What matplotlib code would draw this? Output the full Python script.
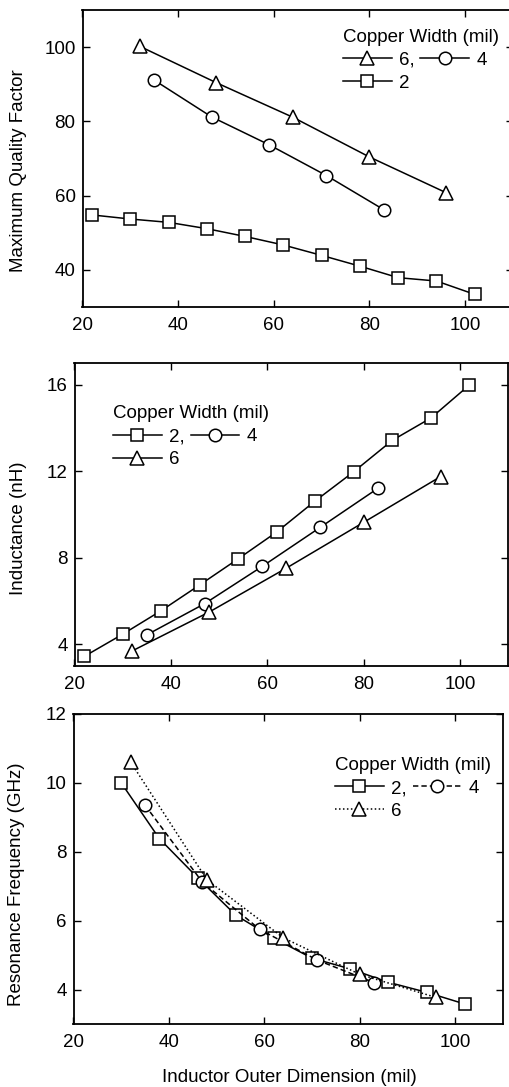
import matplotlib
matplotlib.use("Agg")
import matplotlib.pyplot as plt

plt.rcParams['font.family'] = ['Liberation Sans', 'DejaVu Sans']
plt.rcParams['font.size'] = 13.5

# ---------------- data ----------------
# Panel 1: Maximum Quality Factor
q_x_w2 = [22, 30, 38, 46, 54, 62, 70, 78, 86, 94, 102]
q_y_w2 = [54.8, 53.7, 52.8, 51.1, 49.0, 46.7, 43.9, 41.0, 37.9, 37.0, 33.4]
q_x_w4 = [35, 47, 59, 71, 83]
q_y_w4 = [91.1, 81.2, 73.7, 65.4, 56.2]
q_x_w6 = [32, 48, 64, 80, 96]
q_y_w6 = [100.2, 90.4, 81.1, 70.4, 60.8]

# Panel 2: Inductance (nH)
l_x_w2 = [22, 30, 38, 46, 54, 62, 70, 78, 86, 94, 102]
l_y_w2 = [3.44, 4.47, 5.56, 6.75, 7.96, 9.2, 10.64, 11.99, 13.44, 14.47, 16.0]
l_x_w4 = [35, 47, 59, 71, 83]
l_y_w4 = [4.44, 5.88, 7.61, 9.41, 11.22]
l_x_w6 = [32, 48, 64, 80, 96]
l_y_w6 = [3.7, 5.5, 7.53, 9.64, 11.76]

# Panel 3: Resonance Frequency (GHz)
f_x_w2 = [30, 38, 46, 54, 62, 70, 78, 86, 94, 102]
f_y_w2 = [10.0, 8.38, 7.25, 6.16, 5.49, 4.91, 4.6, 4.21, 3.92, 3.58]
f_x_w4 = [35, 47, 59, 71, 83]
f_y_w4 = [9.35, 7.12, 5.75, 4.86, 4.2]
f_x_w6 = [32, 48, 64, 80, 96]
f_y_w6 = [10.6, 7.18, 5.5, 4.44, 3.77]

x_ticks = [20, 40, 60, 80, 100]
q_ticks = [40, 60, 80, 100]
l_ticks = [4, 8, 12, 16]
f_ticks = [4, 6, 8, 10, 12]

legend_title = "Copper Width (mil)"
xlabel = "Inductor Outer Dimension (mil)"

# ---------------- figure ----------------
W, H = 509, 1087
fig = plt.figure(figsize=(W / 100, H / 100), dpi=100)


def px_axes(l, t, r, b):
    return fig.add_axes([l / W, 1 - b / H, (r - l) / W, (b - t) / H])


ax1 = px_axes(82.5, 10, 513, 307)
ax2 = px_axes(74.5, 363.3, 508, 666)
ax3 = px_axes(73.5, 714, 503, 1024)

mk = dict(mfc='white', mec='black', mew=1.1, color='black', lw=1.1)
sq = dict(marker='s', ms=8, **mk)
ci = dict(marker='o', ms=9, **mk)
tr = dict(marker='^', ms=10, **mk)

# Panel 1
h6, = ax1.plot(q_x_w6, q_y_w6, **tr)
h4, = ax1.plot(q_x_w4, q_y_w4, **ci)
h2, = ax1.plot(q_x_w2, q_y_w2, **sq)
ax1.set_ylim(30, 110)
ax1.set_yticks(q_ticks)
ax1.set_ylabel("Maximum Quality Factor")
ax1.yaxis.set_label_coords(-0.129, 0.458)

# Panel 2
g2, = ax2.plot(l_x_w2, l_y_w2, **sq)
g4, = ax2.plot(l_x_w4, l_y_w4, **ci)
g6, = ax2.plot(l_x_w6, l_y_w6, **tr)
ax2.set_ylim(3, 17)
ax2.set_yticks(l_ticks)
ax2.set_ylabel("Inductance (nH)")
ax2.yaxis.set_label_coords(-0.11, 0.455)

# Panel 3
k2, = ax3.plot(f_x_w2, f_y_w2, ls='-', **sq)
k4, = ax3.plot(f_x_w4, f_y_w4, ls=(0, (3.5, 2)), **ci)
k6, = ax3.plot(f_x_w6, f_y_w6, ls=(0, (1, 1.6)), **tr)
ax3.set_ylim(3, 12)
ax3.set_yticks(f_ticks)
ax3.set_ylabel("Resonance Frequency (GHz)")
ax3.yaxis.set_label_coords(-0.113, 0.452)
ax3.set_xlabel(xlabel)
ax3.xaxis.set_label_coords(0.502, -0.145)

for ax in (ax1, ax2, ax3):
    ax.set_xlim(20, 110)
    ax.set_xticks(x_ticks)
    ax.tick_params(direction='in', length=5, width=1.0, top=True, right=True,
                   labelsize=13.5, pad=5, colors='black')
    ax.tick_params(axis='x', pad=7.2)
    for s in ax.spines.values():
        s.set_linewidth(1.3)

leg_kw = dict(ncol=2, frameon=False, title=legend_title, alignment='left',
              handlelength=2.6, handletextpad=0.4, columnspacing=0.3,
              labelspacing=0.31, borderpad=0, borderaxespad=0,
              loc='upper left', fontsize=13.5, title_fontsize=13.5)

ax1.legend([h6, h2, h4], ['6,', '2', '4'], bbox_to_anchor=(0.605, 0.936), **leg_kw)
ax2.legend([g2, g6, g4], ['2,', '6', '4'], bbox_to_anchor=(0.089, 0.861), **leg_kw)
ax3.legend([k2, k6, k4], ['2,', '6', '4'], bbox_to_anchor=(0.609, 0.861), **leg_kw)

fig.savefig("out.png", dpi=100)
